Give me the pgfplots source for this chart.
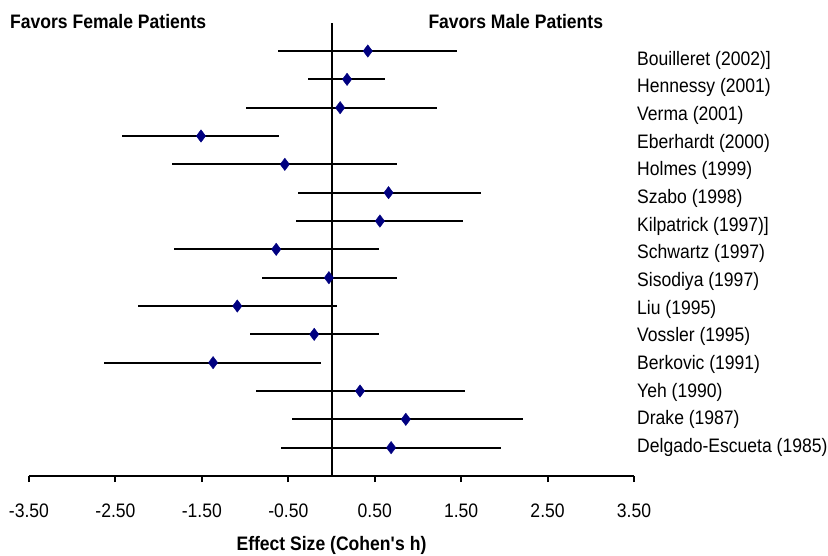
\documentclass[border=0pt]{standalone}
\usepackage{fontspec}
\setmainfont{Liberation Sans}[FakeStretch=0.9]
\usepackage{pgfplots}
\usepackage{pgfplotstable}
\pgfplotsset{compat=1.18}
\usetikzlibrary{calc}
\definecolor{navy}{RGB}{0,0,128}
\newcommand{\lblfont}{\fontsize{19.5bp}{23bp}\selectfont}

\pgfplotstableread{
y es lo hi
15 0.42 -0.62 1.455
14 0.18 -0.27 0.62
13 0.10 -0.99 1.22
12 -1.51 -2.42 -0.61
11 -0.54 -1.84 0.76
10 0.66 -0.385 1.73
9 0.56 -0.41 1.52
8 -0.64 -1.82 0.55
7 -0.03 -0.80 0.76
6 -1.09 -2.24 0.06
5 -0.20 -0.945 0.55
4 -1.37 -2.63 -0.12
3 0.33 -0.87 1.54
2 0.86 -0.46 2.21
1 0.69 -0.59 1.96
}\studies

\begin{document}
\begin{tikzpicture}[font=\lblfont]
\begin{axis}[
  scale only axis, width=605bp, height=453.3bp,
  xmin=-3.5, xmax=3.5, ymin=0, ymax=16,
  clip=false,
  axis x line=bottom, axis y line=right,
  x axis line style={-, line width=2bp, black},
  y axis line style={draw=none},
  xtick={-3.5,-2.5,-1.5,-0.5,0.5,1.5,2.5,3.5},
  xticklabels={-3.50,-2.50,-1.50,-0.50,0.50,1.50,2.50,3.50},
  xtick align=outside,
  major tick length=6bp,
  xtick style={line width=2bp, black},
  ytick style={draw=none},
  ytick={14.684,13.707,12.730,11.753,10.776,9.799,8.822,7.845,6.868,5.891,4.914,3.937,2.960,1.983,1.006},
  yticklabels={Bouilleret (2002)],Hennessy (2001),Verma (2001),Eberhardt (2000),Holmes (1999),Szabo (1998),Kilpatrick (1997)],Schwartz (1997),Sisodiya (1997),Liu (1995),Vossler (1995),Berkovic (1991),Yeh (1990),Drake (1987),Delgado-Escueta (1985)},
  yticklabel style={anchor=west, inner sep=0pt, font=\lblfont},
  xticklabel style={font=\lblfont, yshift=-18bp},
]
\addplot[black, line width=2bp] coordinates {(0,0) (0,16)};
\addplot[only marks, mark=diamond*, mark size=6.2bp, mark options={navy, fill=navy},
  error bars/.cd, x dir=both, x explicit, error mark=none,
  error bar style={line width=2bp, black}]
  table[x=es, y=y, x error plus expr=\thisrow{hi}-\thisrow{es}, x error minus expr=\thisrow{es}-\thisrow{lo}] {\studies};
\node[anchor=west, inner sep=0pt, font=\lblfont\bfseries, xshift=-19bp] at (axis cs:-3.5,16.05) {Favors Female Patients};
\node[anchor=west, inner sep=0pt, font=\lblfont\bfseries] at (axis cs:1.12,16.05) {Favors Male Patients};
\node[inner sep=0pt, font=\lblfont\bfseries, yshift=-69bp] at (axis cs:0,0) {Effect Size (Cohen\textquotesingle s h)};
\coordinate (bl) at (rel axis cs:0,0);
\coordinate (tr) at (rel axis cs:1,1);
\end{axis}
\pgfresetboundingbox
\path[use as bounding box] ($(bl)+(-29bp,-80bp)$) rectangle ($(tr)+(194bp,22.7bp)$);
\end{tikzpicture}
\end{document}
